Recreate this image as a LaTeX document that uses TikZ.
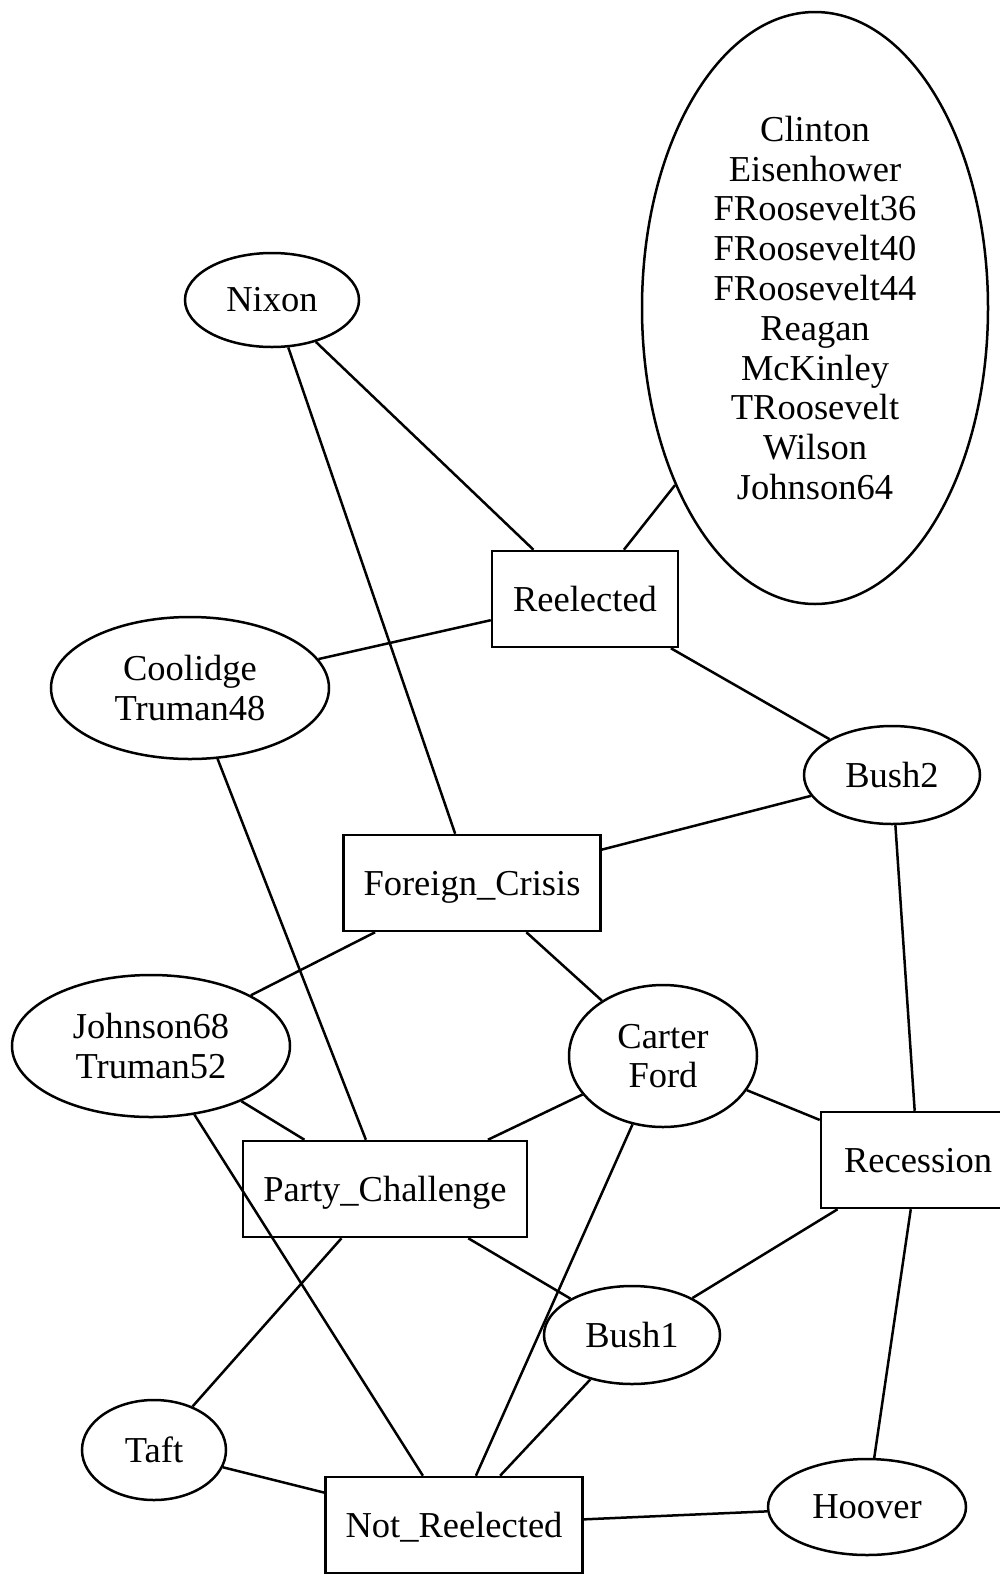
\documentclass[tikz,border=0pt]{standalone}
\usepackage{fontspec}
\setmainfont{Liberation Serif}
\usetikzlibrary{shapes.geometric}
\begin{document}
\begin{tikzpicture}[x=0.5pt,y=-0.5pt,
  every node/.style={font=\fontsize{18.25}{19.9}\selectfont, align=center, inner sep=0pt, line width=1.25pt},
  ell/.style={draw, ellipse},
  box/.style={draw, rectangle, minimum height=48pt, text depth=0pt},
  link/.style={line width=1.25pt}]
\useasboundingbox (0,0) rectangle (1000,1575);
\clip (0,0) rectangle (1000,1575);

% outcome boxes
\node[box, minimum width=93pt]   (re)  at (585,599)  {Reelected};
\node[box, minimum width=128.5pt] (fc) at (472,883)  {Foreign\_Crisis};
\node[box, minimum width=97pt]   (rec) at (918,1160) {Recession};
\node[box, minimum width=142pt]  (pc)  at (385,1189) {Party\_Challenge};
\node[box, minimum width=128.5pt] (nr) at (454,1525) {Not\_Reelected};

% president groups
\node[ell, minimum width=173pt, minimum height=296pt] (grp) at (815,308)
  {Clinton\\Eisenhower\\FRoosevelt36\\FRoosevelt40\\FRoosevelt44\\Reagan\\McKinley\\TRoosevelt\\Wilson\\Johnson64};
\node[ell, minimum width=87pt, minimum height=47pt]  (nix) at (272,300)  {Nixon};
\node[ell, minimum width=139pt, minimum height=71pt] (cool) at (190,688) {Coolidge\\Truman48};
\node[ell, minimum width=88pt, minimum height=49pt]  (b2)  at (892,775)  {Bush2};
\node[ell, minimum width=139pt, minimum height=71pt] (j68) at (151,1046) {Johnson68\\Truman52};
\node[ell, minimum width=94pt, minimum height=71pt]  (cf)  at (663,1056) {Carter\\Ford};
\node[ell, minimum width=88pt, minimum height=49pt]  (b1)  at (632,1335) {Bush1};
\node[ell, minimum width=72pt, minimum height=50pt]  (taft) at (154,1450) {Taft};
\node[ell, minimum width=99pt, minimum height=48pt]  (hoov) at (867,1507) {Hoover};

% links
\draw[link] (nix) -- (re);
\draw[link] (nix) -- (fc);
\draw[link] (grp) -- (re);
\draw[link] (re) -- (cool);
\draw[link] (re) -- (b2);
\draw[link] (b2) -- (fc);
\draw[link] (b2) -- (rec);
\draw[link] (fc) -- (j68);
\draw[link] (fc) -- (cf);
\draw[link] (cool) -- (pc);
\draw[link] (j68) -- (pc);
\draw[link] (j68) -- (nr);
\draw[link] (cf) -- (pc);
\draw[link] (cf) -- (rec);
\draw[link] (cf) -- (nr);
\draw[link] (pc) -- (b1);
\draw[link] (pc) -- (taft);
\draw[link] (rec) -- (b1);
\draw[link] (rec) -- (hoov);
\draw[link] (b1) -- (nr);
\draw[link] (taft) -- (nr);
\draw[link] (nr) -- (hoov);
\end{tikzpicture}
\end{document}
